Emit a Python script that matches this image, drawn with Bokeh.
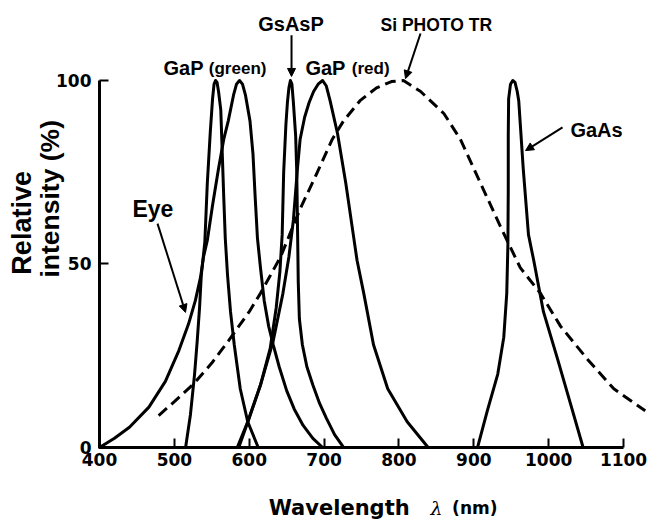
from bokeh.plotting import figure
from bokeh.models import Range1d, FixedTicker, Label, Arrow, NormalHead
from bokeh.embed import file_html
from bokeh.resources import INLINE

# ---- data (wavelength nm, relative intensity %) ----
eye_wl = [400, 420, 440, 466, 488, 506, 519, 528, 535, 539, 544, 551, 559, 566, 572, 579, 583, 587,
          591, 595, 601, 605, 608, 611, 615, 620, 626, 632, 640, 650, 660, 672, 685, 698]
eye_val = [0, 2.5, 5.5, 11, 18, 26.4, 33.7, 40, 46.4, 52, 56.4, 66, 76, 84, 89, 96, 99, 100,
           99, 96, 89, 80, 68, 57, 49, 40, 33, 28, 22, 15.5, 10.5, 6, 2.5, 0]

gap_green_wl = [515, 521.5, 527, 530.5, 533.6, 536, 540.7, 544, 548, 551, 553, 555, 557, 559,
                562, 564, 566, 568, 571, 575, 580, 588, 598, 612]
gap_green_val = [0, 9, 20, 29, 38, 47, 56, 72, 86, 95, 99, 100, 99.5, 97,
                 92, 80, 68, 57, 47, 37, 28, 16, 7, 0]

gsasp_wl = [586, 600, 615, 628, 636, 641, 644, 646, 649, 651, 653, 655, 657, 659, 662, 663.5,
            664.5, 665.5, 667, 671, 677, 685, 694, 703, 714, 726]
gsasp_val = [0, 8, 17, 27, 38, 48, 58, 75, 88, 94, 98, 100, 99, 94, 85, 75,
             60, 45, 35, 28, 22, 17, 12, 8, 3.5, 0]

gap_red_wl = [584, 598, 615, 632, 645, 653, 659, 664, 668, 674, 680, 686, 692, 698, 703, 708,
              718, 729, 739, 744, 753, 766, 785, 811, 839]
gap_red_val = [0, 7, 17, 29, 42, 52, 62, 75, 84, 90, 94, 97, 99, 100, 98.5, 94.5,
               85.5, 72, 58, 51, 42, 28, 16, 7, 0]

gaas_wl = [905, 918, 932, 940, 944, 945.5, 946, 946, 946.5, 949, 952, 955, 958, 960, 966, 973,
           980, 993, 1012, 1029, 1046]
gaas_val = [0, 10, 20, 30, 42, 55, 70, 85, 95, 99, 100, 99.5, 97, 94.5, 76, 58,
            51, 37, 24, 12, 0]

si_wl = [479, 500, 526, 550, 572, 600, 615, 642, 668, 691, 711, 726, 748, 770, 790, 806, 829,
         860, 882, 909, 936, 962, 989, 1016, 1052, 1087, 1129]
si_val = [8.7, 12.5, 17.4, 23, 29, 37, 42, 52, 65, 75, 84, 89, 94.5, 98, 99.7, 100, 97,
          91, 84, 72, 60, 49, 42, 33, 24, 16, 10]

x_ticks = [400, 500, 600, 700, 800, 900, 1000, 1100]
y_ticks = [0, 50, 100]

p = figure(width=647, height=520, x_range=Range1d(267.75, 1132), y_range=Range1d(-19.9, 121.8),
           min_border=0, output_backend="svg", toolbar_location=None)
p.outline_line_color = None
p.grid.visible = False
p.background_fill_color = "white"
p.border_fill_color = "white"

for ax in (p.xaxis[0], p.yaxis[0]):
    ax.axis_line_width = 3
    ax.axis_line_color = "black"
    ax.major_tick_in = 9
    ax.major_tick_out = 0
    ax.major_tick_line_width = 2
    ax.minor_tick_line_color = None
    ax.major_label_text_font = "DejaVu Sans"
    ax.major_label_text_font_style = "bold"
    ax.major_label_text_font_size = "17px"
    ax.major_label_text_color = "black"

p.xaxis[0].ticker = FixedTicker(ticks=x_ticks)
p.xaxis[0].bounds = (400, 1100)
p.xaxis[0].fixed_location = 0
p.xaxis[0].major_label_standoff = 6
p.yaxis[0].ticker = FixedTicker(ticks=y_ticks)
p.yaxis[0].bounds = (0, 100)
p.yaxis[0].fixed_location = 400
p.yaxis[0].major_label_standoff = 8

for wl, val in [(eye_wl, eye_val), (gap_green_wl, gap_green_val), (gsasp_wl, gsasp_val),
                (gap_red_wl, gap_red_val), (gaas_wl, gaas_val)]:
    p.line(wl, val, line_color="black", line_width=3, line_join="round", line_cap="round")
p.line(si_wl, si_val, line_color="black", line_width=3, line_dash="11 6")

def lab(x, y, t, size, font="Liberation Sans", style="bold", angle=0.0):
    p.add_layout(Label(x=x, y=y, text=t, text_font=font, text_font_style=style,
                       text_font_size=size, text_color="black", text_align="left",
                       text_baseline="alphabetic", angle=angle))

lab(485.5, 103.3, "GaP", "20px")
lab(546.0, 103.3, "(green)", "17px")
lab(612.0, 115.3, "GsAsP", "20px")
lab(775.4, 115.0, "Si PHOTO TR", "17.5px")
lab(675.0, 103.3, "GaP", "20px")
lab(737.0, 103.3, "(red)", "17px")
lab(444.0, 65.1, "Eye", "23px")
lab(1029.0, 86.4, "GaAs", "20px")

# axis titles
lab(297.0, 47.1, "Relative", "27px", angle=1.5708)
lab(334.5, 46.3, "intensity (%)", "26.5px", angle=1.5708)
lab(626.0, -16.4, "Wavelength", "21px", font="DejaVu Sans")
lab(842.0, -16.4, "\u03bb", "19px", font="DejaVu Serif", style="italic")
lab(871.0, -16.4, "(nm)", "17px", font="DejaVu Sans")

def arrow(x0, y0, x1, y1):
    p.add_layout(Arrow(x_start=x0, y_start=y0, x_end=x1, y_end=y1, line_width=2,
                       line_color="black",
                       end=NormalHead(size=8, fill_color="black", line_color="black")))

arrow(477.5, 61.0, 514.9, 36.8)
arrow(656.5, 112.3, 656.5, 101.1)
arrow(828.8, 112.8, 808.8, 100.5)
arrow(1018.5, 87.2, 969.1, 80.9)

open("out.html", "w").write(file_html(p, INLINE))
